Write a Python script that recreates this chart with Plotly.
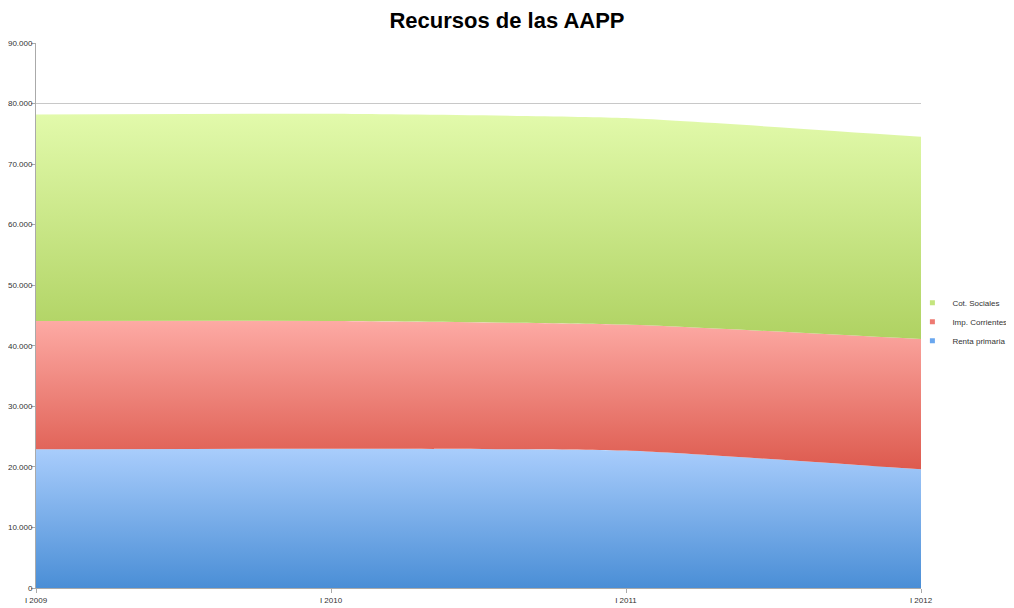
import numpy as np
import plotly.graph_objects as go

# ── DATA (miles) ─────────────────────────────────────────────────────────────
periodos   = ["I 2009", "I 2010", "I 2011", "I 2012"]
renta_prim = [22900, 23000, 22700, 19600]
imp_corr   = [21200, 21100, 20800, 21500]
cot_soc    = [34100, 34200, 34100, 33400]

series = [
    ("Renta primaria", renta_prim, "#4a8ed6", "#a9cdfc", "#6aa7ef"),
    ("Imp. Corrientes", imp_corr,  "#dd5a4e", "#fdaaa4", "#ee7a72"),
    ("Cot. Sociales",   cot_soc,   "#afd262", "#e2faab", "#c4e57e"),
]

fig = go.Figure()

base = np.zeros(len(periodos))
for name, vals, c_low, c_high, c_leg in series:
    top = base + np.array(vals)
    fig.add_trace(go.Scatter(
        x=periodos, y=vals, name=name,
        stackgroup="one",
        mode="lines",
        line=dict(width=0, shape="spline", smoothing=0.5, color=c_low),
        fillgradient=dict(
            type="vertical",
            colorscale=[[0, c_low], [1, c_high]],
            start=float(base.min()), stop=float(top.max()),
        ),
        showlegend=False,
        hoverinfo="x+y+name",
    ))
    # small square key, like the original legend
    fig.add_trace(go.Scatter(
        x=[None], y=[None], name=name, mode="markers",
        marker=dict(symbol="square", size=5, color=c_leg),
        showlegend=True, hoverinfo="skip",
    ))
    base = top

# page body adds an 8px offset, margins below allow for it
fig.update_layout(
    width=1006, height=600,
    title=dict(text="<b>Recursos de las AAPP</b>", x=0.496, xanchor="center",
               y=0.992, yanchor="top",
               font=dict(family="Liberation Sans, Arial", size=22, color="#000")),
    font=dict(family="Liberation Sans, Arial", size=8, color="#333"),
    separators=",.",
    paper_bgcolor="white", plot_bgcolor="white",
    margin=dict(l=28, r=93, t=35, b=20, autoexpand=False),
    showlegend=True,
    legend=dict(xref="container", yref="container", x=0.899, y=0.477,
                xanchor="left", yanchor="middle",
                traceorder="reversed", font=dict(size=8, color="#333"),
                itemwidth=30, tracegroupgap=0, bgcolor="rgba(0,0,0,0)"),
)

fig.update_xaxes(
    type="category", range=[0, len(periodos) - 1], automargin=False,
    showgrid=False, showline=True, linecolor="#aaa", linewidth=1,
    ticks="outside", ticklen=4, tickcolor="#aaa",
    tickfont=dict(size=8, color="#333"),
)
fig.update_yaxes(
    range=[0, 90000], dtick=10000, tickformat=",d", automargin=False,
    showgrid=True, gridcolor="#c8c8c8", gridwidth=1,
    showline=True, linecolor="#aaa", linewidth=1,
    ticks="outside", ticklen=4, tickcolor="#aaa", ticklabelstandoff=-3,
    tickfont=dict(size=8, color="#333"),
    zeroline=False,
)

fig.write_html("out.html")
